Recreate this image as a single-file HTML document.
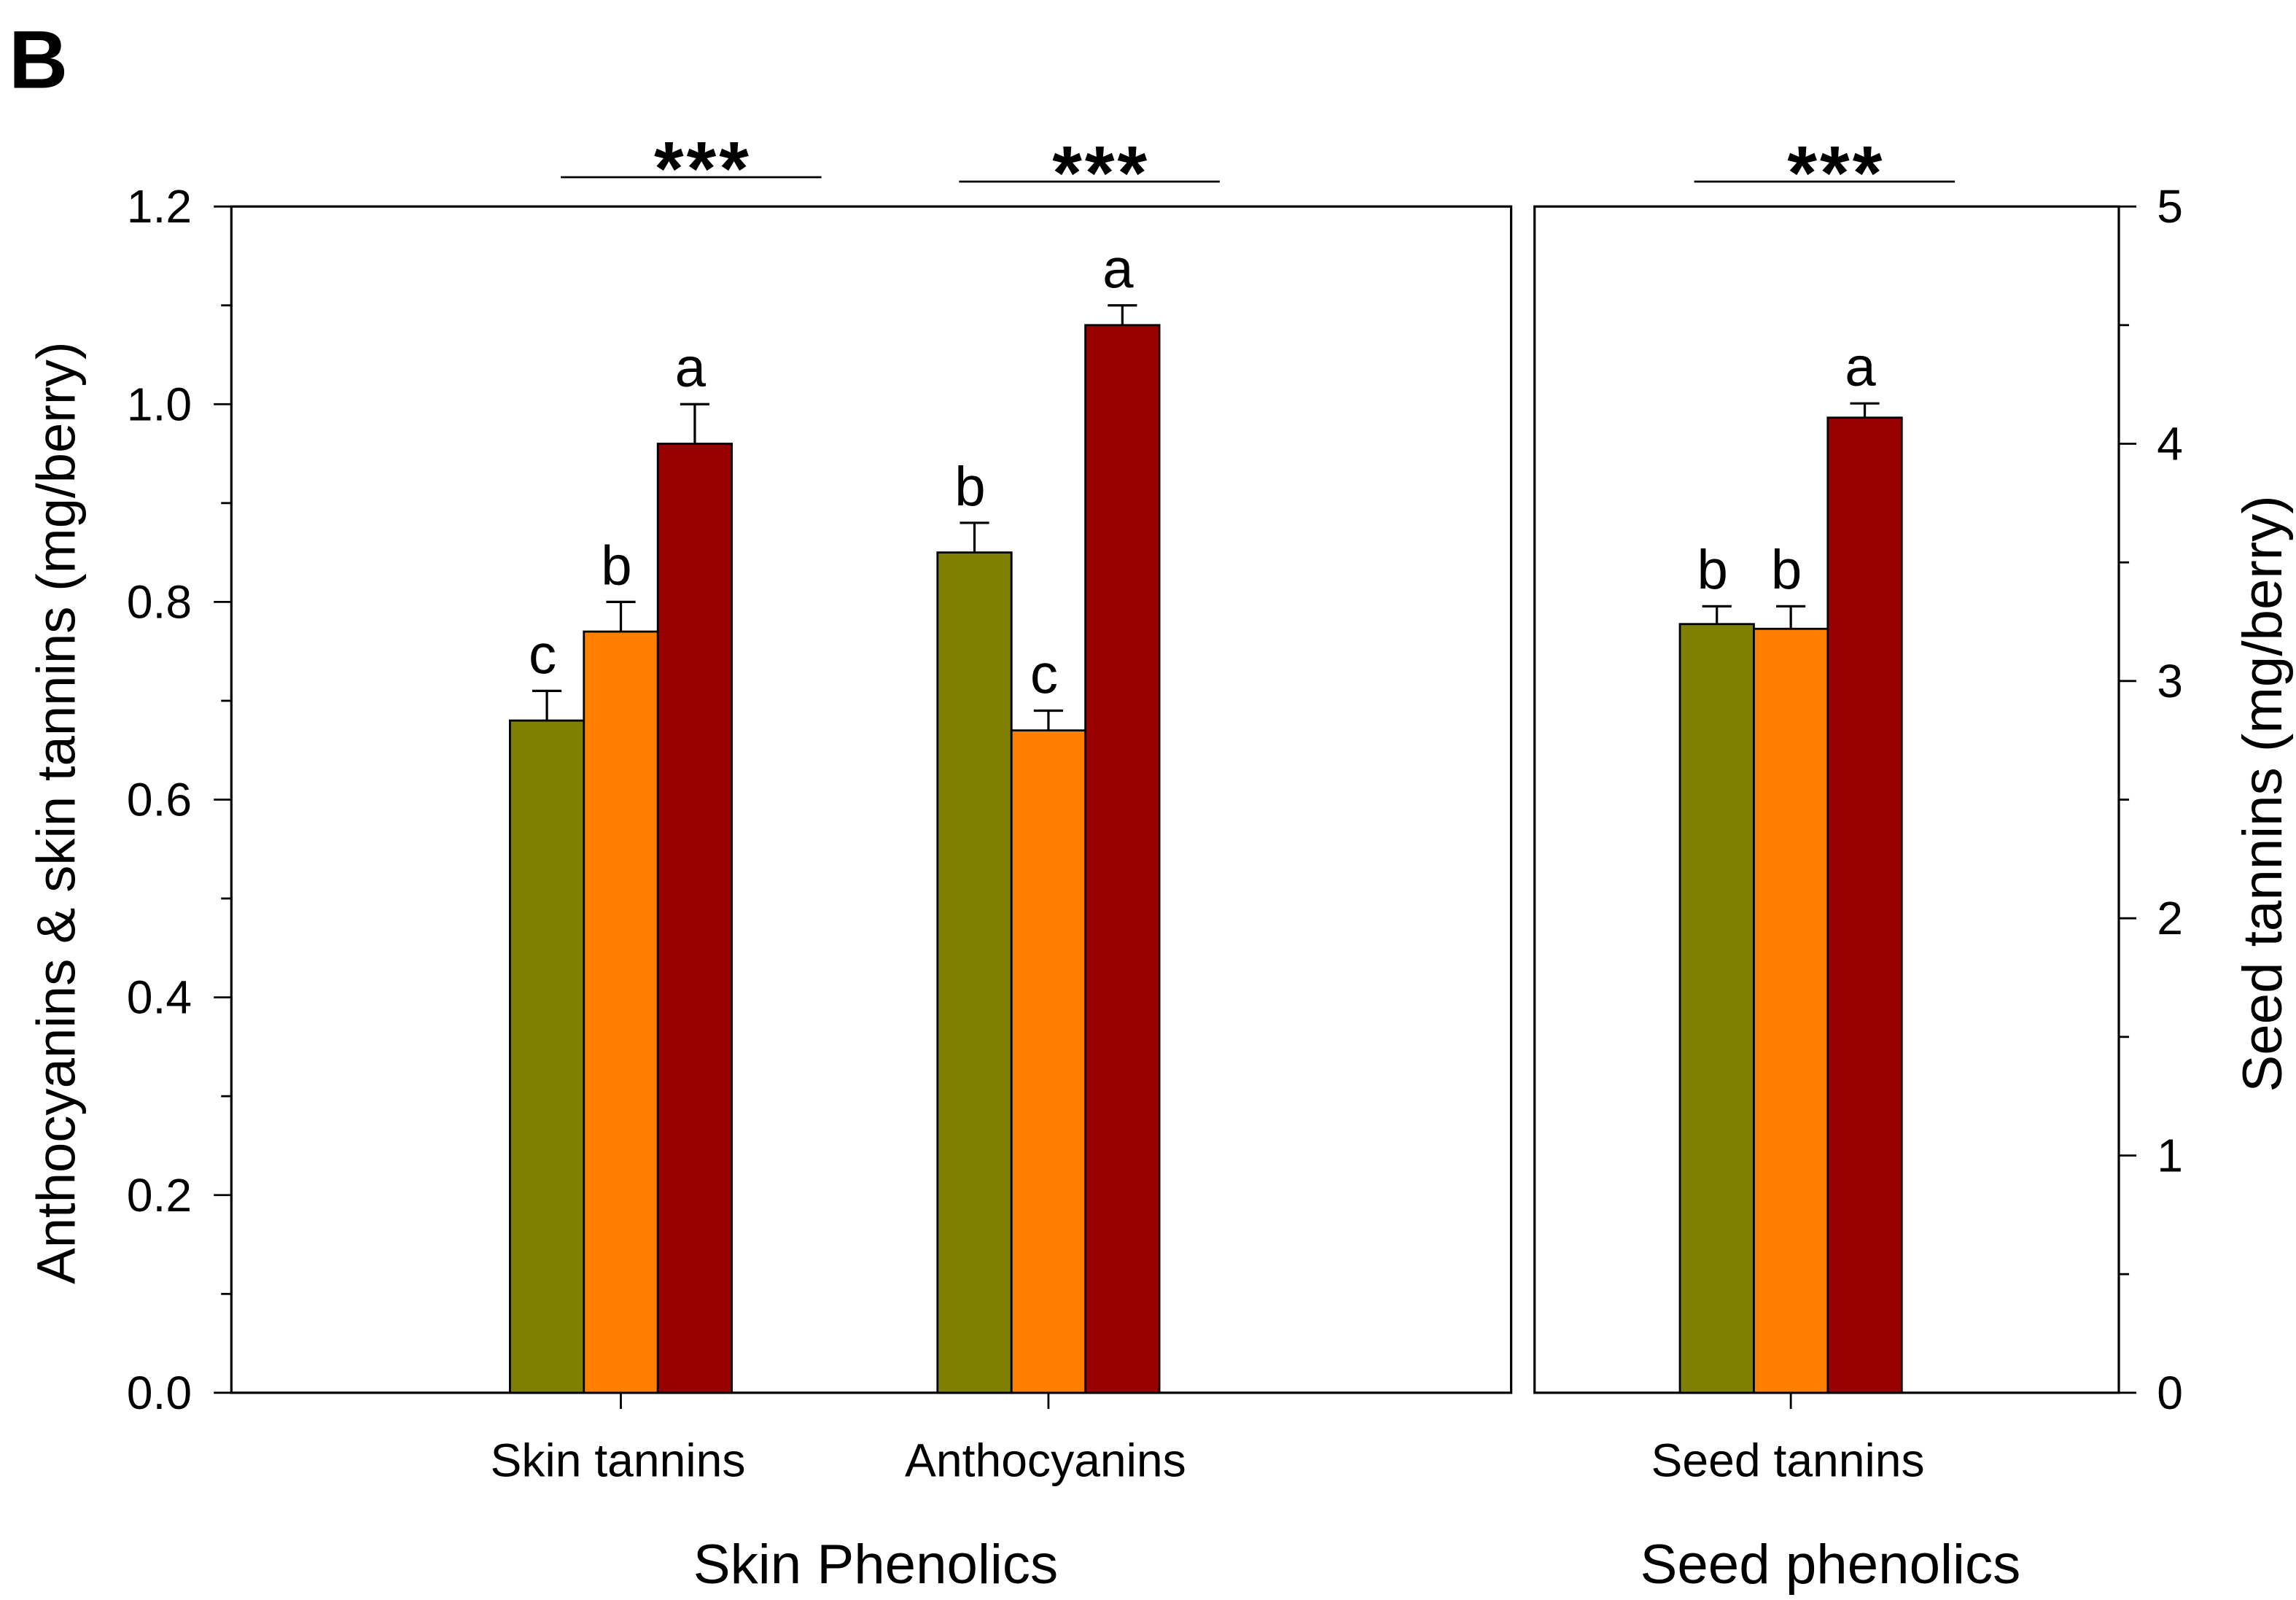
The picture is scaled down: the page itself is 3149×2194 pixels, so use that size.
<!DOCTYPE html>
<html><head><meta charset="utf-8"><style>
html,body{margin:0;padding:0;background:#fff;}
svg{display:block;}
text{font-family:"Liberation Sans",Arial,sans-serif;fill:#000;}
</style></head><body>
<svg id="chart" width="3149" height="2194" viewBox="0 0 1568 1092.5" preserveAspectRatio="none" xmlns="http://www.w3.org/2000/svg">
<text x="6" y="60" font-size="56" font-weight="bold">B</text>
<g id="g"></g>
</svg>
<script>
const treatments = ["T1","T2","T3"];
const colors = ["#808000","#ff8000","#990000"];
const skinCategories = ["Skin tannins","Anthocyanins"];
const skinValues = [[0.68,0.77,0.96],[0.85,0.67,1.08]];
const skinErrors = [[0.03,0.03,0.04],[0.03,0.02,0.02]];
const skinLetters = [["c","b","a"],["b","c","a"]];
const seedCategories = ["Seed tannins"];
const seedValues = [[3.24,3.22,4.11]];
const seedErrors = [[0.075,0.095,0.06]];
const seedLetters = [["b","b","a"]];
const leftTicks = [0,0.2,0.4,0.6,0.8,1.0,1.2];
const rightTicks = [0,1,2,3,4,5];

const NS="http://www.w3.org/2000/svg";
const g=document.getElementById('g');
function el(t,a,txt){const e=document.createElementNS(NS,t);for(const k in a)e.setAttribute(k,a[k]);if(txt!==undefined)e.textContent=txt;g.appendChild(e);return e;}
const y0=951,y1=141;
const yL=v=>y0-(v/1.2)*(y0-y1);
const yR=v=>y0-(v/5)*(y0-y1);
const barW=50.5;

let p=el('rect',{x:158,y:141,width:874,height:810,fill:'none',stroke:'#000','stroke-width':1.6});

p=el('rect',{x:1048,y:141,width:399,height:810,fill:'none',stroke:'#000','stroke-width':1.6});


for(let v=0;v<=1.2001;v+=0.1){const y=yL(v);const major=Math.abs(Math.round(v*10)%2)===0;
 const t=el('line',{x1:158,x2:major?146:151,y1:y,y2:y,stroke:'#000','stroke-width':1.4});
 }
leftTicks.forEach(v=>{const t=el('text',{x:131,y:yL(v)+11,'font-size':32,'text-anchor':'end'},v.toFixed(1));
 });
for(let v=0;v<=5.001;v+=0.5){const y=yR(v);const major=Math.abs(v-Math.round(v))<0.01;
 const t=el('line',{x1:1447,x2:major?1459:1454,y1:y,y2:y,stroke:'#000','stroke-width':1.4});
 }
rightTicks.forEach(v=>{const t=el('text',{x:1473,y:yR(v)+11,'font-size':32},String(v));
 });

function group(cx,vals,errs,letters,yf,cat,sx1,sx2,sigY,key){
 const tk=el('line',{x1:cx,x2:cx,y1:951,y2:962,stroke:'#000','stroke-width':1.4});
 
 const lb=el('text',{x:cx-2,y:1008,'font-size':32,'text-anchor':'middle'},cat);
 
 vals.forEach((v,i)=>{const x=cx-1.5*barW+i*barW;const top=yf(v);const et=yf(v+errs[i]);const mx=x+barW/2;
  const b=el('rect',{x:x,y:top,width:barW,height:951-top,fill:colors[i],stroke:'#000','stroke-width':1.4});
  
  const e=el('path',{d:`M${mx},${top}V${et}M${mx-10},${et}H${mx+10}`,stroke:'#000','stroke-width':1.6,fill:'none'});
  
  const l=el('text',{x:mx-3,y:et-12,'font-size':38,'text-anchor':'middle'},letters[i]);
  });
 const sl=el('line',{x1:sx1,x2:sx2,y1:sigY,y2:sigY,stroke:'#000','stroke-width':1.4});
 
 const st=el('text',{x:(sx1+sx2)/2+8,y:sigY+12,'font-size':52,'font-weight':'bold','text-anchor':'middle','letter-spacing':'2'},'***');
 
}
group(424,skinValues[0],skinErrors[0],skinLetters[0],yL,skinCategories[0],383,561,121,'skin-tannins');
group(716,skinValues[1],skinErrors[1],skinLetters[1],yL,skinCategories[1],655,833,124,'anthocyanins');
group(1223,seedValues[0],seedErrors[0],seedLetters[0],yR,seedCategories[0],1157,1335,124,'seed-tannins');

let t=el('text',{x:598,y:1081,'font-size':38,'text-anchor':'middle'},'Skin Phenolics');

t=el('text',{x:1250,y:1081,'font-size':38,'text-anchor':'middle'},'Seed phenolics');

t=el('text',{x:0,y:0,'font-size':37,'text-anchor':'middle',transform:'translate(51,555) rotate(-90)'},'Anthocyanins & skin tannins (mg/berry)');

t=el('text',{x:0,y:0,'font-size':38,'text-anchor':'middle',transform:'translate(1558,542) rotate(-90)'},'Seed tannins (mg/berry)');

</script>
</body></html>
